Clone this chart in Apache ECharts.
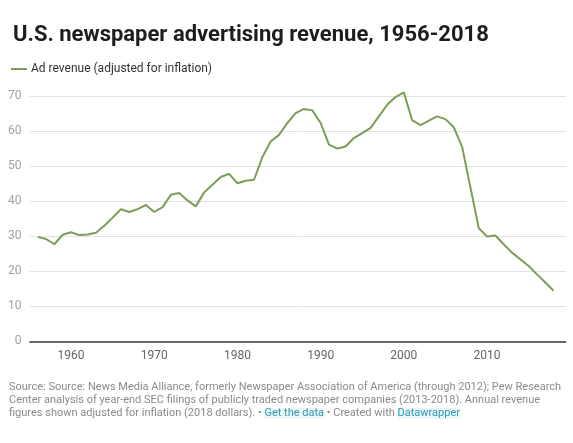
<!DOCTYPE html>
<html>
<head>
<meta charset="utf-8">
<script src="https://cdn.jsdelivr.net/npm/echarts@6/dist/echarts.min.js"></script>
<style>
html,body{margin:0;padding:0;background:#fff;}
#chart{width:573px;height:443px;}
</style>
</head>
<body>
<div id="chart"></div>
<script>
var years = [1956,1957,1958,1959,1960,1961,1962,1963,1964,1965,1966,1967,1968,1969,1970,1971,1972,1973,1974,1975,1976,1977,1978,1979,1980,1981,1982,1983,1984,1985,1986,1987,1988,1989,1990,1991,1992,1993,1994,1995,1996,1997,1998,1999,2000,2001,2002,2003,2004,2005,2006,2007,2008,2009,2010,2011,2012,2013,2014,2015,2016,2017,2018];
var revenue = [29.8,29.2,27.7,30.4,31.1,30.3,30.5,31.0,33.0,35.3,37.7,36.9,37.7,38.9,36.9,38.3,41.8,42.3,40.2,38.5,42.5,44.7,46.9,47.8,45.1,45.8,46.1,52.6,57.0,58.9,62.3,65.1,66.3,65.9,62.3,56.1,55.0,55.6,58.0,59.4,60.9,64.2,67.5,69.7,71.0,63.1,61.7,63.0,64.2,63.4,61.1,55.5,44.0,32.3,29.9,30.2,27.7,25.3,23.4,21.5,19.1,16.8,14.4];
var seriesName = 'Ad revenue (adjusted for inflation)';
var titleText = 'U.S. newspaper advertising revenue, 1956-2018';
var sourceLines = [
  'Source: Source: News Media Alliance, formerly Newspaper Association of America (through 2012); Pew Research',
  'Center analysis of year-end SEC filings of publicly traded newspaper companies (2013-2018). Annual revenue',
  'figures shown adjusted for inflation (2018 dollars). \u2022 {link|Get the data} \u2022 Created with {link|Datawrapper}'
];

var chart = echarts.init(document.getElementById('chart'), null, {renderer:'canvas'});
var data = years.map(function(y,i){ return [y, revenue[i]]; });
var FONT = 'Roboto, "Noto Sans", sans-serif';

chart.setOption({
  backgroundColor: '#fff',
  animation: false,
  textStyle: {fontFamily: FONT},
  title: {
    text: titleText,
    left: 8, top: 19,
    textStyle: {fontFamily: FONT, fontSize: 22, fontWeight: 'bold', color: '#1d1d1d'}
  },
  legend: {
    left: 6, top: 58,
    icon: 'rect', itemWidth: 16, itemHeight: 2, itemGap: 10,
    textStyle: {fontFamily: FONT, fontSize: 12, color: '#333', padding: [0,0,0,-1]},
    data: [seriesName]
  },
  grid: {left: 29.4, right: 6.9, top: 96, bottom: 101.7, containLabel: false},
  xAxis: {
    type: 'value', min: 1955, max: 2019.5, interval: 5,
    axisLine: {show: false},
    axisTick: {show: false},
    splitLine: {show: false},
    axisLabel: {
      fontFamily: FONT, fontSize: 12, color: '#666', margin: 9,
      showMinLabel: true, showMaxLabel: false,
      formatter: function(v){ return (v % 10 === 0) ? String(v) : ''; }
    }
  },
  yAxis: {
    type: 'value', min: 0, max: 70, interval: 10,
    axisLine: {show: false},
    axisTick: {show: false},
    splitLine: {lineStyle: {color: '#e2e2e2', width: 1}},
    axisLabel: {fontFamily: FONT, fontSize: 12, color: '#a0a0a0', margin: 8}
  },
  series: [
    {
      name: seriesName,
      type: 'line',
      data: data,
      showSymbol: false,
      symbol: 'none',
      clip: false,
      smooth: false,
      lineStyle: {color: '#7c9d55', width: 2},
      itemStyle: {color: '#7c9d55'},
      markLine: {
        silent: true, symbol: 'none', label: {show: false},
        lineStyle: {color: '#666', width: 2, type: 'solid'},
        data: [{yAxis: 0}]
      }
    }
  ],
  graphic: [
    {
      type: 'text', left: 9, top: 381,
      style: {
        text: sourceLines.join('\n'),
        fontFamily: FONT, fontSize: 11, lineHeight: 13, fill: '#8a8a8a',
        rich: {
          link: {fontFamily: FONT, fontSize: 11, lineHeight: 13, fill: '#2f9bb0', backgroundColor: '#eaf6f8'}
        }
      }
    }
  ]
});
</script>
</body>
</html>
